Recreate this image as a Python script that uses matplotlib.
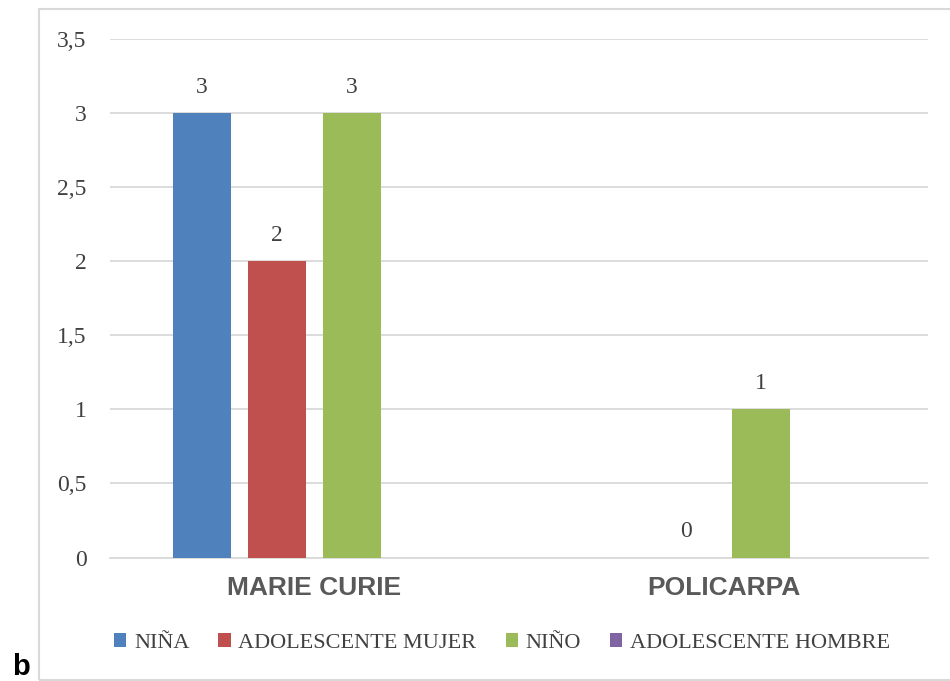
import numpy as np
import matplotlib.pyplot as plt
from matplotlib.patches import Patch, Rectangle

# Counts per school and group (nan = no bar)
schools = ["MARIE CURIE", "POLICARPA"]
series = ["NIÑA", "ADOLESCENTE MUJER", "NIÑO", "ADOLESCENTE HOMBRE"]
nina = [3, np.nan]
adol_mujer = [2, 0]
nino = [3, 1]
adol_hombre = [np.nan, np.nan]
colors = ["#4F81BD", "#C0504D", "#9BBB59", "#8064A2"]

yticks = [0, 0.5, 1, 1.5, 2, 2.5, 3, 3.5]
ytick_labels = ["0", "0,5", "1", "1,5", "2", "2,5", "3", "3,5"]

serif = "Liberation Serif"
sans = "Liberation Sans"
txt_gray = "#404040"
grid_gray = "#D9D9D9"

fig = plt.figure(figsize=(9.5, 6.81), dpi=100)
W, H = 950, 681

# outer chart frame
fig.patches.append(Rectangle((39 / W, 1 - 680 / H), 1.0, (680 - 9) / H,
                             transform=fig.transFigure, fill=False,
                             edgecolor=grid_gray, linewidth=1.5))

ax = fig.add_axes([110 / W, 1 - 557.5 / H, (928 - 110) / W, (557.5 - 39) / H])

x = np.arange(len(schools))
step = 0.1834
width = 0.142
all_vals = [nina, adol_mujer, nino, adol_hombre]
for i, (vals, col, name) in enumerate(zip(all_vals, colors, series)):
    xs = x + (i - 1.5) * step
    v = np.array(vals, dtype=float)
    ax.bar(xs, np.nan_to_num(v), width=width, color=col, label=name, zorder=3)
    for xx, vv in zip(xs, v):
        if not np.isnan(vv):
            ax.annotate(f"{vv:g}", (xx, vv), xytext=(0, 11), textcoords="offset points",
                        ha="center", va="bottom", fontsize=17, family=serif, color=txt_gray)

ax.set_xlim(-0.5, 1.5)
ax.set_ylim(0, 3.5)
ax.set_yticks(yticks)
ax.set_yticklabels(ytick_labels, family=serif, fontsize=17, color=txt_gray)
ax.set_xticks(x)
ax.set_xticklabels(schools, family=sans, fontsize=19, fontweight="bold", color="#595959")
ax.tick_params(axis="y", length=0, pad=17)
ax.tick_params(axis="x", length=0, pad=13)

ax.grid(axis="y", color=grid_gray, linewidth=1.3, zorder=0)
for side in ["left", "right", "top"]:
    ax.spines[side].set_visible(False)
ax.spines["bottom"].set_color(grid_gray)
ax.spines["bottom"].set_linewidth(1.3)

handles = [Patch(facecolor=c, edgecolor="none") for c in colors]
fig.legend(handles, series, loc="center", bbox_to_anchor=(502 / W, 1 - 643 / H),
           ncol=4, frameon=False, prop={"family": serif, "size": 16},
           handlelength=0.55, handleheight=0.55, handletextpad=0.35,
           columnspacing=1.3, labelcolor=txt_gray)

fig.text(12 / W, 1 - 675 / H, "b", family=sans, fontweight="bold", fontsize=21,
         ha="left", va="baseline", color="black")

fig.savefig("out.png", dpi=100)
